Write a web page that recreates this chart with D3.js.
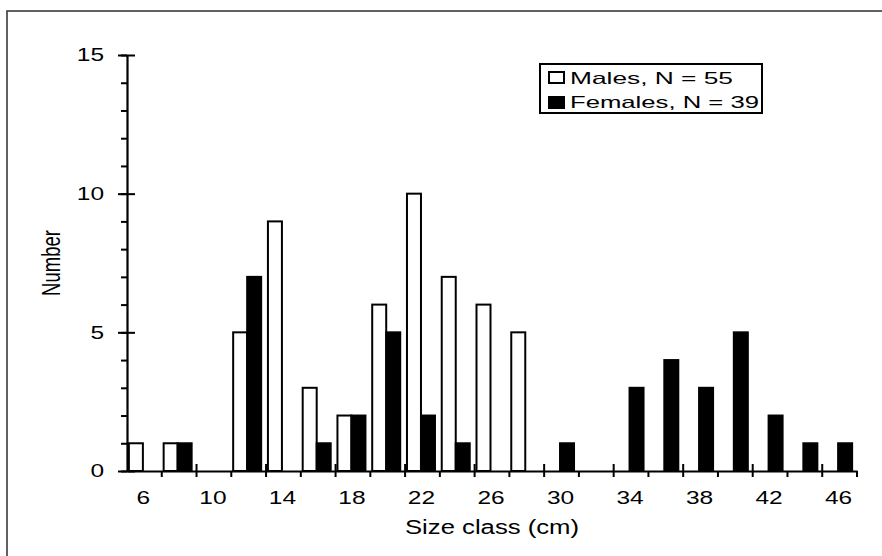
<!DOCTYPE html>
<html>
<head>
<meta charset="utf-8">
<script src="https://cdn.jsdelivr.net/npm/d3@7"></script>
<style>
  html, body { margin: 0; padding: 0; background: #fff; }
  svg { display: block; }
  text { font-family: "Liberation Sans", Arial, Helvetica, sans-serif; fill: #000; }
</style>
</head>
<body>
<script>
// Size classes (cm), lower bound of each 2 cm class
const sizeClasses = [6, 8, 10, 12, 14, 16, 18, 20, 22, 24, 26, 28, 30, 32, 34, 36, 38, 40, 42, 44, 46];
// Counts per class
const males   = [1, 1, 0, 5, 9, 3, 2, 6, 10, 7, 6, 5, 0, 0, 0, 0, 0, 0, 0, 0, 0];
const females = [0, 1, 0, 7, 0, 1, 2, 5, 2, 1, 0, 0, 1, 0, 3, 4, 3, 5, 2, 1, 1];
// Axis labelling
const xTickLabels = [6, 10, 14, 18, 22, 26, 30, 34, 38, 42, 46];
const yMajorTicks = [0, 5, 10, 15];
const yMinorTicks = d3.range(0, 16);
const legendLabels = ["Males, N = 55", "Females, N = 39"];

const W = 882, H = 556;
const plotLeft = 127, plotRight = 857, plotTop = 55, plotBottom = 471;
const stretch = 1.4; // wide lettering used throughout

const svg = d3.select("body").append("svg").attr("width", W).attr("height", H);

// outer frame
svg.append("rect").attr("x", 7).attr("y", 11).attr("width", W + 20).attr("height", H + 20)
  .attr("fill", "none").attr("stroke", "#3a3a3a").attr("stroke-width", 1.6);

const x = d3.scaleBand().domain(sizeClasses).range([plotLeft, plotRight]).padding(0);
const xEdge = d3.scaleLinear().domain([5, 47]).range([plotLeft, plotRight]);
const y = d3.scaleLinear().domain([0, 15]).range([plotBottom, plotTop]);

const barW = 14;
const pairCenter = c => x(c) + x.bandwidth() / 2 - 1.5;

// bars
const bars = svg.append("g").attr("stroke", "#000").attr("stroke-width", 2);
bars.selectAll("rect.m").data(sizeClasses.map((c, i) => ({ c, v: males[i] })).filter(d => d.v > 0))
  .join("rect").attr("class", "m")
  .attr("x", d => pairCenter(d.c) - barW).attr("width", barW)
  .attr("y", d => y(d.v)).attr("height", d => y(0) - y(d.v))
  .attr("fill", "#fff");
bars.selectAll("rect.f").data(sizeClasses.map((c, i) => ({ c, v: females[i] })).filter(d => d.v > 0))
  .join("rect").attr("class", "f")
  .attr("x", d => pairCenter(d.c)).attr("width", barW)
  .attr("y", d => y(d.v)).attr("height", d => y(0) - y(d.v))
  .attr("fill", "#000");

// y axis: minor ticks, major ticks crossing the axis line
const yMinor = svg.append("g").attr("transform", `translate(${plotLeft},0)`)
  .call(d3.axisLeft(y).tickValues(yMinorTicks).tickSize(6).tickFormat(""));
yMinor.select(".domain").remove();
yMinor.selectAll("line").attr("stroke-width", 2);

const yAxis = svg.append("g").attr("transform", `translate(${plotLeft},0)`)
  .call(d3.axisLeft(y).tickValues(yMajorTicks).tickSizeInner(9).tickSizeOuter(0));
yAxis.select(".domain").attr("stroke-width", 2.2);
yAxis.selectAll(".tick line").attr("x2", -9).attr("x1", 8).attr("stroke-width", 2);
yAxis.selectAll(".tick text")
  .attr("x", 0).attr("dy", "0.34em")
  .attr("transform", `translate(-23,0) scale(${stretch},1)`)
  .style("font-size", "17.5px").attr("fill", "#000");

// x axis: line, boundary ticks and class labels
const xAxis = svg.append("g").attr("transform", `translate(0,${plotBottom})`)
  .call(d3.axisBottom(x).tickValues(xTickLabels).tickSize(0).tickSizeOuter(0));
xAxis.select(".domain").attr("stroke-width", 2.2);
xAxis.selectAll(".tick text")
  .attr("y", 33).attr("dy", null)
  .attr("transform", `translate(-1,0) scale(${stretch},1)`)
  .style("font-size", "17.5px").attr("fill", "#000");

const edges = d3.range(7, 48, 2);
svg.append("g").attr("stroke", "#000").attr("stroke-width", 2)
  .selectAll("line").data(edges).join("line")
  .attr("x1", d => xEdge(d)).attr("x2", d => xEdge(d))
  .attr("y1", d => ((d - 5) / 2) % 2 === 0 ? plotBottom - 7 : plotBottom)
  .attr("y2", plotBottom + 6);

// axis titles
svg.append("text")
  .attr("x", 405).attr("y", 534)
  .attr("textLength", 174).attr("lengthAdjust", "spacingAndGlyphs")
  .style("font-size", "20px")
  .text("Size class (cm)");

svg.append("text")
  .attr("transform", `translate(60,263) scale(1.35,1) rotate(-90)`)
  .attr("text-anchor", "middle").style("font-size", "18.5px")
  .text("Number");

// legend
const lg = svg.append("g");
lg.append("rect").attr("x", 540).attr("y", 64).attr("width", 222).attr("height", 49)
  .attr("fill", "#fff").attr("stroke", "#000").attr("stroke-width", 2);
const rows = [
  { label: legendLabels[0], fill: "#fff", sy: 72, ty: 83.5, w: 163 },
  { label: legendLabels[1], fill: "#000", sy: 97, ty: 108, w: 189 }
];
rows.forEach(r => {
  lg.append("rect").attr("x", 549).attr("y", r.sy).attr("width", 15).attr("height", 11)
    .attr("fill", r.fill).attr("stroke", "#000").attr("stroke-width", 2);
  lg.append("text").attr("x", 570).attr("y", r.ty)
    .attr("textLength", r.w).attr("lengthAdjust", "spacingAndGlyphs")
    .style("font-size", "16.5px").text(r.label);
});
</script>
</body>
</html>
